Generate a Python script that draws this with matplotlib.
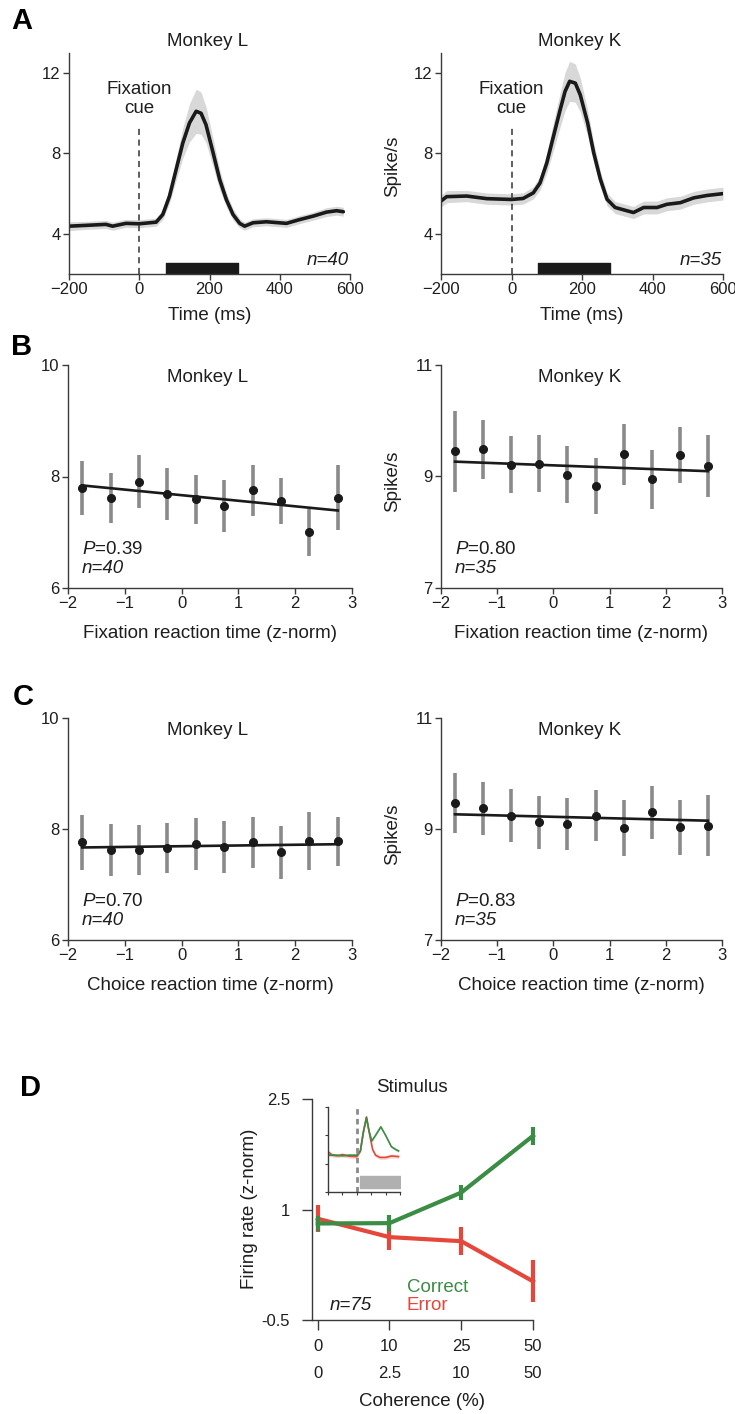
import numpy as np
import matplotlib.pyplot as plt

plt.rcParams['font.family'] = ['Liberation Sans', 'DejaVu Sans']
plt.rcParams['axes.unicode_minus'] = True
plt.rcParams['mathtext.fontset'] = 'custom'
plt.rcParams['mathtext.it'] = 'Liberation Sans:italic'

# === panel A: PSTH around fixation cue ===
time_L = [-200, -152, -95, -76, -38, 0, 48, 67, 86, 105, 124, 143, 162, 176, 190,
          210, 229, 248, 267, 286, 300, 324, 362, 419, 457, 495, 533, 562, 581]
rate_L = [4.38, 4.42, 4.47, 4.38, 4.52, 4.5, 4.58, 4.96, 5.87, 7.2, 8.52, 9.52, 10.1, 10.0, 9.43,
          8.05, 6.7, 5.7, 4.96, 4.52, 4.38, 4.55, 4.6, 4.52, 4.71, 4.88, 5.08, 5.15, 5.1]
sem_L = [0.22, 0.2, 0.2, 0.2, 0.2, 0.2, 0.2, 0.25, 0.35, 0.55, 0.75, 0.95, 1.1, 1.05, 0.9,
         0.7, 0.5, 0.35, 0.28, 0.22, 0.2, 0.2, 0.2, 0.2, 0.2, 0.2, 0.22, 0.22, 0.22]

time_K = [-200, -184, -127, -70, 0, 33, 62, 81, 100, 119, 138, 152, 165, 181, 195,
          216, 233, 252, 271, 294, 327, 346, 375, 413, 441, 479, 517, 555, 600]
rate_K = [5.63, 5.85, 5.88, 5.75, 5.71, 5.76, 6.04, 6.53, 7.52, 8.85, 10.17, 11.09, 11.59, 11.5, 10.92,
          9.52, 8.05, 6.72, 5.72, 5.31, 5.15, 5.06, 5.31, 5.31, 5.47, 5.55, 5.79, 5.91, 6.0]
sem_K = [0.3, 0.3, 0.28, 0.28, 0.28, 0.28, 0.3, 0.35, 0.5, 0.7, 0.85, 0.95, 1.0, 0.95, 0.85,
         0.65, 0.5, 0.4, 0.32, 0.3, 0.3, 0.3, 0.32, 0.32, 0.32, 0.32, 0.32, 0.32, 0.32]

stim_on, stim_off = 75, 280
cue_top = 9.4

# === panels B, C: rate vs reaction time bins ===
rt_bins = [-1.75, -1.25, -0.75, -0.25, 0.25, 0.75, 1.25, 1.75, 2.25, 2.75]

fixrt_L = [7.79, 7.62, 7.91, 7.69, 7.59, 7.47, 7.75, 7.56, 7.0, 7.62]
fixrt_L_err = [0.48, 0.45, 0.48, 0.47, 0.44, 0.46, 0.45, 0.42, 0.42, 0.58]
fixrt_L_fit = (7.665, -0.10)   # intercept, slope
fixrt_K = [9.455, 9.485, 9.21, 9.23, 9.035, 8.83, 9.395, 8.95, 9.38, 9.185]
fixrt_K_err = [0.725, 0.535, 0.51, 0.51, 0.515, 0.51, 0.555, 0.53, 0.5, 0.555]
fixrt_K_fit = (9.20, -0.038)

chrt_L = [7.76, 7.62, 7.62, 7.65, 7.73, 7.68, 7.76, 7.58, 7.78, 7.78]
chrt_L_err = [0.49, 0.47, 0.455, 0.45, 0.465, 0.465, 0.455, 0.475, 0.525, 0.445]
chrt_L_fit = (7.69, 0.013)
chrt_K = [9.465, 9.37, 9.24, 9.12, 9.09, 9.24, 9.02, 9.3, 9.03, 9.06]
chrt_K_err = [0.535, 0.47, 0.48, 0.48, 0.47, 0.465, 0.505, 0.475, 0.49, 0.55]
chrt_K_fit = (9.22, -0.0255)

# === panel D: firing rate vs coherence ===
coh_row1 = ['0', '10', '25', '50']
coh_row2 = ['0', '2.5', '10', '50']
correct_mean = [0.81, 0.815, 1.23, 2.0]
correct_err = [0.1, 0.105, 0.1, 0.12]
error_mean = [0.875, 0.625, 0.57, 0.025]
error_err = [0.185, 0.175, 0.19, 0.285]
d_yticks = [-0.5, 1, 2.5]
d_yticklabels = ['-0.5', '1', '2.5']

# inset
inset_t_c = [-200, -150, -100, -50, 0, 25, 45, 67, 85, 104, 130, 167, 200, 240, 270, 290]
inset_c = [1.3, 1.3, 1.28, 1.3, 1.3, 1.45, 2.1, 2.62, 2.15, 1.8, 2.0, 2.3, 2.0, 1.6, 1.5, 1.45]
inset_t_e = [-200, -170, -130, -100, -50, 0, 25, 45, 67, 90, 110, 130, 160, 200, 240, 290]
inset_e = [1.42, 1.3, 1.28, 1.32, 1.26, 1.25, 1.45, 2.1, 2.65, 2.0, 1.5, 1.3, 1.22, 1.22, 1.27, 1.25]

GREEN = '#3b8c44'
RED = '#e5473a'
SPINE = '#3a3a3a'
TXT = '#1e1e1e'
TICK_FS = 12
LAB_FS = 13.5

W, H = 735, 1414
fig = plt.figure(figsize=(W / 100, H / 100), dpi=100)


def px_axes(x0, y0, x1, y1):
    return fig.add_axes([x0 / W, 1 - y1 / H, (x1 - x0) / W, (y1 - y0) / H])


def ftext(x, y, s, **kw):
    kw.setdefault('color', TXT)
    kw.setdefault('fontsize', LAB_FS)
    return fig.text(x / W, 1 - y / H, s, **kw)


def style(ax, ticklen=4):
    for side in ['top', 'right']:
        ax.spines[side].set_visible(False)
    for side in ['left', 'bottom']:
        ax.spines[side].set_color(SPINE)
        ax.spines[side].set_linewidth(1.0)
    ax.tick_params(length=ticklen, width=1.0, color=SPINE, labelcolor=TXT,
                   labelsize=TICK_FS, pad=2)


# --- A ---
panelA = [
    ((69, 53, 350, 274), time_L, rate_L, sem_L, 'Monkey L', 'n=40', False),
    ((441, 53, 723, 274), time_K, rate_K, sem_K, 'Monkey K', 'n=35', True),
]
for box, t, m, s, title, n, ylab in panelA:
    ax = px_axes(*box)
    t, m, s = np.array(t), np.array(m), np.array(s)
    ax.fill_between(t, m - s, m + s, color='#d8d8d8', lw=0)
    ax.plot(t, m, color='#1a1a1a', lw=2.6, solid_capstyle='round')
    ax.plot([0, 0], [2, cue_top], ls=(0, (4, 3)), color='#333333', lw=1.1)
    ax.broken_barh([(stim_on, stim_off - stim_on)], (2, 0.55), color='#1a1a1a')
    ax.set_xlim(-200, 600)
    ax.set_ylim(2, 13)
    ax.set_xticks([-200, 0, 200, 400, 600])
    ax.set_yticks([4, 8, 12])
    style(ax)
    x0, y0, x1, y1 = box
    cx = (x0 + x1) / 2
    ftext(cx - 2, 46, title, ha='center', va='baseline')
    zero_px = x0 + (x1 - x0) * 0.25
    ftext(zero_px, 94, 'Fixation', ha='center', va='baseline')
    ftext(zero_px, 113, 'cue', ha='center', va='baseline')
    ftext(x1 - 1, 265, n, ha='right', va='baseline', style='italic')
    ftext(cx, 316, 'Time (ms)', ha='center', va='center')
    if ylab:
        ftext(393, 166, 'Spike/s', ha='center', va='center', rotation=90)

# --- B and C ---
panelBC = [
    ((68, 365, 352, 588), fixrt_L, fixrt_L_err, fixrt_L_fit, (6, 10), 'Monkey L', 'P=0.39', 'n=40', False,
     'Fixation reaction time (z-norm)'),
    ((441, 365, 722, 588), fixrt_K, fixrt_K_err, fixrt_K_fit, (7, 11), 'Monkey K', 'P=0.80', 'n=35', True,
     'Fixation reaction time (z-norm)'),
    ((68, 718, 352, 940), chrt_L, chrt_L_err, chrt_L_fit, (6, 10), 'Monkey L', 'P=0.70', 'n=40', False,
     'Choice reaction time (z-norm)'),
    ((441, 718, 722, 940), chrt_K, chrt_K_err, chrt_K_fit, (7, 11), 'Monkey K', 'P=0.83', 'n=35', True,
     'Choice reaction time (z-norm)'),
]
for box, means, errs, fit, ylim, title, ptxt, ntxt, ylab, xlab in panelBC:
    ax = px_axes(*box)
    ax.errorbar(rt_bins, means, yerr=errs, fmt='none', ecolor='#8a8a8a', elinewidth=2.6, capsize=0)
    xf = np.array([rt_bins[0], rt_bins[-1]])
    ax.plot(xf, fit[0] + fit[1] * xf, color='#1a1a1a', lw=1.9)
    ax.plot(rt_bins, means, 'o', color='#1a1a1a', ms=5.5)
    ax.set_xlim(-2, 3)
    ax.set_ylim(*ylim)
    ax.set_xticks([-2, -1, 0, 1, 2, 3])
    ax.set_yticks([ylim[0], (ylim[0] + ylim[1]) / 2, ylim[1]])
    ax.set_yticklabels([str(ylim[0]), str((ylim[0] + ylim[1]) // 2), str(ylim[1])])
    style(ax)
    x0, y0, x1, y1 = box
    cx = (x0 + x1) / 2
    ftext(cx - 2, y0 + 17, title, ha='center', va='baseline')
    ftext(x0 + 14, y1 - 34, '$P$=' + ptxt[2:], ha='left', va='baseline')
    ftext(x0 + 14, y1 - 15, ntxt, ha='left', va='baseline', style='italic')
    ftext(cx, y1 + 45, xlab, ha='center', va='center')
    if ylab:
        ftext(393, (y0 + y1) / 2 + 5, 'Spike/s', ha='center', va='center', rotation=90)

# --- D ---
axd = px_axes(312, 1099, 533, 1320)
xi = np.arange(len(coh_row1))
axd.errorbar(xi, correct_mean, yerr=correct_err, color=GREEN, lw=3.0, elinewidth=3.0,
             capsize=0, clip_on=False, zorder=3)
axd.errorbar(xi, error_mean, yerr=error_err, color=RED, lw=3.0, elinewidth=3.0,
             capsize=0, clip_on=False, zorder=2)
axd.set_xlim(-0.08, 3.0)
axd.set_ylim(-0.5, 2.5)
axd.set_xticks(xi)
axd.set_xticklabels(coh_row1)
axd.set_yticks(d_yticks)
axd.set_yticklabels(d_yticklabels)
style(axd, ticklen=7)
axd.tick_params(axis='x', pad=7)
axd.tick_params(axis='y', pad=9)
row2_y = -(1373 - 1320) / 221
for i, lab in enumerate(coh_row2):
    axd.text(i, row2_y, lab, transform=axd.get_xaxis_transform(), ha='center', va='center',
             fontsize=TICK_FS, color=TXT)
ftext(422, 1401, 'Coherence (%)', ha='center', va='center')
ftext(250, 1209, 'Firing rate (z-norm)', ha='center', va='center', rotation=90)
ftext(412, 1092, 'Stimulus', ha='center', va='baseline')
ftext(407, 1292, 'Correct', ha='left', va='baseline', color=GREEN)
ftext(407, 1310, 'Error', ha='left', va='baseline', color=RED)
ftext(330, 1310, 'n=75', ha='left', va='baseline', style='italic')

axi = px_axes(328, 1107, 400, 1192)
ti_c, vi_c = np.array(inset_t_c), np.array(inset_c)
ti_e, vi_e = np.array(inset_t_e), np.array(inset_e)
axi.fill_between(ti_e, vi_e - 0.07, vi_e + 0.07, color=RED, alpha=0.2, lw=0)
axi.fill_between(ti_c, vi_c - 0.05, vi_c + 0.05, color=GREEN, alpha=0.2, lw=0)
axi.plot(ti_e, vi_e, color=RED, lw=1.2)
axi.plot(ti_c, vi_c, color=GREEN, lw=1.2)
axi.axvline(0, color='#8a8a8a', ls=(0, (2, 1.5)), lw=2.0)
axi.broken_barh([(20, 280)], (0.15, 0.42), color='#b0b0b0')
axi.set_xlim(-200, 300)
axi.set_ylim(0, 3)
axi.set_xticks([-200, -100, 0, 100, 200, 300])
axi.set_yticks([0, 1, 2, 3])
axi.set_xticklabels([])
axi.set_yticklabels([])
style(axi, ticklen=2)
axi.tick_params(width=0.8)

# panel letters
for letter, (x, y) in zip('ABCD', [(22, 21), (22, 347), (23, 697), (31, 1088)]):
    ftext(x, y, letter, ha='center', va='center', fontsize=21, fontweight='bold', color='black')

fig.savefig('out.png', dpi=100)
